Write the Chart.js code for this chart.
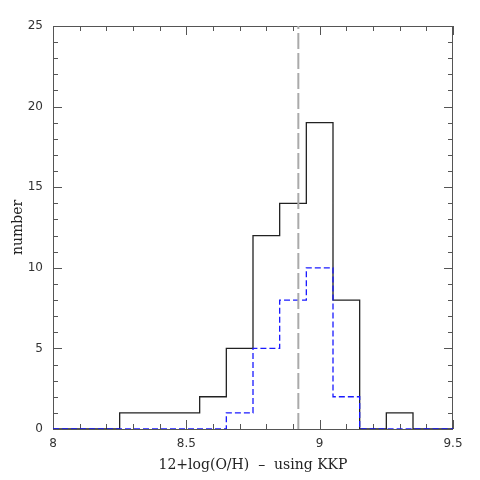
<!DOCTYPE html>
<html>
<head>
<meta charset="utf-8">
<script src="https://cdn.jsdelivr.net/npm/chart.js@4.4.1/dist/chart.umd.min.js"></script>
<style>
  html, body { margin: 0; padding: 0; background: #fff; }
  #wrap { width: 480px; height: 480px; }
</style>
</head>
<body>
<div id="wrap"><canvas id="histo"></canvas></div>
<script>
// bin centres (width 0.1) and counts
const binCenters = [8.0, 8.1, 8.2, 8.3, 8.4, 8.5, 8.6, 8.7, 8.8, 8.9, 9.0, 9.1, 9.2, 9.3, 9.4, 9.5];
const allCounts  = [0,   0,   0,   1,   1,   1,   2,   5,   12,  14,  19,  8,   0,   1,   0,   0];
const kkpCounts  = [0,   0,   0,   0,   0,   0,   0,   1,   5,   8,   10,  2,   0,   0,   0,   0];
const refValue = [8.92];
const xTicks = [8, 8.5, 9, 9.5];
const yTicks = [0, 5, 10, 15, 20, 25];

const xMin = 8, xMax = 9.5, yMin = 0, yMax = 25;
const binWidth = 0.1;

// turn bins into step points (left edge carries the bin count)
function stepPoints(counts) {
  const pts = binCenters.map((c, i) => ({ x: Math.max(xMin, c - binWidth / 2), y: counts[i] }));
  pts.push({ x: xMax, y: counts[counts.length - 1] });
  return pts;
}

// inward ticks on all four sides + frame, like the original plot
const frameTicks = {
  id: 'frameTicks',
  beforeDatasetsDraw(chart) {
    const { ctx, chartArea: a, scales: { x, y } } = chart;
    ctx.save();
    ctx.strokeStyle = '#555';
    ctx.lineWidth = 1;
    ctx.strokeRect(a.left + 0.5, a.top + 0.5, a.right - a.left - 1, a.bottom - a.top);
    ctx.beginPath();
    for (let v = xMin; v <= xMax + 1e-9; v += 0.1) {
      const px = Math.round(x.getPixelForValue(v)) + 0.5;
      const major = Math.abs(v * 2 - Math.round(v * 2)) < 1e-6;
      const len = major ? 9 : 5;
      ctx.moveTo(px, a.bottom); ctx.lineTo(px, a.bottom - len);
      ctx.moveTo(px, a.top); ctx.lineTo(px, a.top + len);
    }
    for (let v = yMin; v <= yMax; v += 1) {
      const py = Math.round(y.getPixelForValue(v)) + 0.5;
      const len = v % 5 === 0 ? 9 : 5;
      ctx.moveTo(a.left, py); ctx.lineTo(a.left + len, py);
      ctx.moveTo(a.right, py); ctx.lineTo(a.right - len, py);
    }
    ctx.stroke();
    ctx.restore();
  }
};

const serif = '"DejaVu Serif", serif';

new Chart(document.getElementById('histo'), {
  type: 'line',
  data: {
    datasets: [
      {
        label: 'all',
        data: stepPoints(allCounts),
        stepped: true,
        borderColor: '#222',
        borderWidth: 1.3,
        pointRadius: 0,
        fill: false,
        order: 3,
      },
      {
        label: 'KKP',
        data: stepPoints(kkpCounts),
        stepped: true,
        borderColor: '#1a1aff',
        borderWidth: 1.3,
        borderDash: [6, 3],
        pointRadius: 0,
        fill: false,
        order: 2,
      },
      {
        label: 'ref',
        data: [{ x: refValue[0], y: yMin }, { x: refValue[0], y: yMax }],
        borderColor: '#aaaaaa',
        borderWidth: 2,
        borderDash: [16, 4],
        pointRadius: 0,
        fill: false,
        order: 1,
      }
    ]
  },
  options: {
    responsive: true,
    maintainAspectRatio: false,
    animation: false,
    events: [],
    layout: { padding: { left: 0, top: 26, right: 27, bottom: 0 } },
    plugins: { legend: { display: false }, tooltip: { enabled: false } },
    scales: {
      x: {
        type: 'linear',
        min: xMin, max: xMax,
        afterBuildTicks: s => { s.ticks = xTicks.map(v => ({ value: v })); },
        afterFit: s => { s.height = 51; },
        grid: { display: false, drawTicks: false },
        border: { display: false },
        ticks: {
          padding: 8,
          maxRotation: 0,
          color: '#333',
          font: { family: '"DejaVu Sans", sans-serif', size: 12 },
          callback: v => String(v),
        },
        title: {
          display: true,
          text: '12+log(O/H)  \u2013  using KKP',
          color: '#222',
          font: { family: serif, size: 14 },
          padding: { top: 0, bottom: 6 },
        }
      },
      y: {
        type: 'linear',
        min: yMin, max: yMax,
        afterBuildTicks: s => { s.ticks = yTicks.map(v => ({ value: v })); },
        afterFit: s => { s.width = 53; },
        grid: { display: false, drawTicks: false },
        border: { display: false },
        ticks: {
          padding: 10,
          color: '#333',
          font: { family: '"DejaVu Sans", sans-serif', size: 12 },
        },
        title: {
          display: true,
          text: 'number',
          color: '#222',
          font: { family: serif, size: 14 },
          padding: { top: 10, bottom: 0 },
        }
      }
    }
  },
  plugins: [frameTicks]
});
</script>
</body>
</html>
